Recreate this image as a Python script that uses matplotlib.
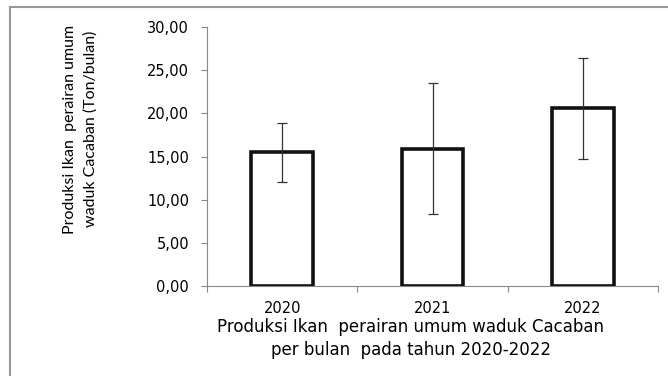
import matplotlib
matplotlib.use("Agg")
import matplotlib.pyplot as plt
from matplotlib.lines import Line2D
from matplotlib.ticker import FuncFormatter

# Produksi ikan per bulan (ton) dan simpangan baku
tahun = ["2020", "2021", "2022"]
produksi = [15.5, 15.9, 20.6]
simpangan = [3.4, 7.6, 5.85]

plt.rcParams['font.family'] = ['DejaVu Sans']

fig = plt.figure(figsize=(6.68, 3.76), dpi=100)
ax = fig.add_axes([0.310, 0.239, 0.675, 0.689])

x = range(len(tahun))
ax.bar(x, produksi, width=0.41, color="white", edgecolor="#111111",
       linewidth=2.6, zorder=2)
ax.errorbar(x, produksi, yerr=simpangan, fmt="none", ecolor="#333333",
            elinewidth=0.9, capsize=3.6, capthick=0.9, zorder=3)

ax.set_xlim(-0.5, len(tahun) - 0.5)
ax.set_ylim(0, 30)
ax.set_yticks(range(0, 31, 5))
ax.yaxis.set_major_formatter(FuncFormatter(lambda v, p: f"{v:.2f}".replace(".", ",")))

ax.set_xticks(list(x))
ax.set_xticklabels(tahun)
ax.set_xticks([i - 0.5 for i in range(len(tahun) + 1)], minor=True)
ax.tick_params(axis="x", which="major", length=0, pad=11, labelsize=10.5)
ax.tick_params(axis="x", which="minor", length=4.5, color="#888888", width=0.8)
ax.tick_params(axis="y", length=4.5, color="#888888", width=0.8, labelsize=10.5, pad=8.5)

for s in ["top", "right"]:
    ax.spines[s].set_visible(False)
for s in ["left", "bottom"]:
    ax.spines[s].set_color("#888888")
    ax.spines[s].set_linewidth(0.8)

fig.text(0.615, 0.10, "Produksi Ikan  perairan umum waduk Cacaban\nper bulan  pada tahun 2020-2022",
         ha="center", va="center", fontsize=12, linespacing=1.35)
fig.text(0.12, 0.657, "Produksi Ikan  perairan umum\nwaduk Cacaban (Ton/bulan)",
         ha="center", va="center", rotation=90, fontsize=11.5, linespacing=1.6,
         family=["Lato", "DejaVu Sans"])

# bingkai luar (garis atas dan kiri)
fig.add_artist(Line2D([0.0145, 1.0], [0.981, 0.981], color="#999999", linewidth=1.5))
fig.add_artist(Line2D([0.0145, 0.0145], [0.0, 0.981], color="#999999", linewidth=1.5))

fig.savefig("out.png", dpi=100)
